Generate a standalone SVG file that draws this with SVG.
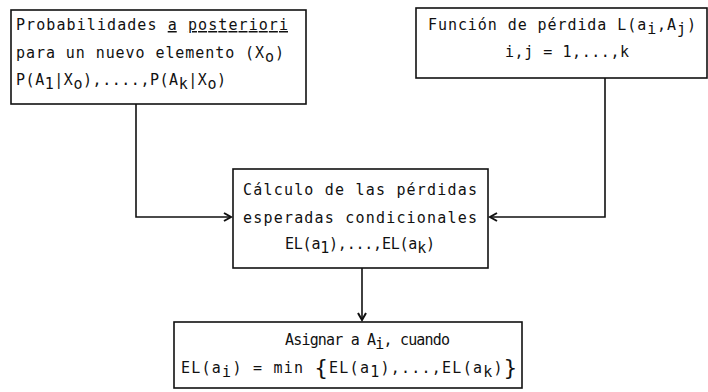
<svg xmlns="http://www.w3.org/2000/svg" width="708" height="392" viewBox="0 0 708 392">
<defs>
<style>
.box{fill:#fff;stroke:#111;stroke-width:1.6}
.t{font-family:"DejaVu Sans Mono","Liberation Mono",monospace;font-size:15px;fill:#111}
.con{fill:none;stroke:#111;stroke-width:1.6}
.u{text-decoration:underline}
.br{font-size:22px}
</style>
<marker id="ah" markerWidth="10" markerHeight="10" refX="8" refY="5" orient="auto" markerUnits="userSpaceOnUse">
<path d="M1,1 L8,5 L1,9" fill="none" stroke="#111" stroke-width="2"/>
</marker>
</defs>
<rect width="708" height="392" fill="#fff"/>
<g id="connectors">
<path class="con" d="M136,104 V217 H231" marker-end="url(#ah)"/>
<path class="con" d="M605,78 V217 H490" marker-end="url(#ah)"/>
<path class="con" d="M362,268 V320" marker-end="url(#ah)"/>
</g>
<g id="posteriori">
<rect class="box" x="11" y="10" width="295" height="94"/>
<text class="t" x="16" y="30" textLength="272" lengthAdjust="spacing">Probabilidades <tspan class="u">a</tspan> <tspan class="u">posteriori</tspan></text>
<text class="t" x="16" y="58" textLength="268" lengthAdjust="spacing">para un nuevo elemento (X<tspan dy="4">o</tspan><tspan dy="-4">)</tspan></text>
<text class="t" x="16" y="85" textLength="210" lengthAdjust="spacing">P(A<tspan dy="4">1</tspan><tspan dy="-4">|X</tspan><tspan dy="4">o</tspan><tspan dy="-4">),....,P(A</tspan><tspan dy="4">k</tspan><tspan dy="-4">|X</tspan><tspan dy="4">o</tspan><tspan dy="-4">)</tspan></text>
</g>
<g id="perdida">
<rect class="box" x="416" y="8" width="291" height="70"/>
<text class="t" x="428" y="30" textLength="268" lengthAdjust="spacing">Función de pérdida L(a<tspan dy="4">i</tspan><tspan dy="-4">,A</tspan><tspan dy="4">j</tspan><tspan dy="-4">)</tspan></text>
<text class="t" x="505" y="57" textLength="124" lengthAdjust="spacing">i,j = 1,...,k</text>
</g>
<g id="calculo">
<rect class="box" x="233" y="169" width="255" height="99"/>
<text class="t" x="243" y="195" textLength="234" lengthAdjust="spacing">Cálculo de las pérdidas</text>
<text class="t" x="243" y="223" textLength="234" lengthAdjust="spacing">esperadas condicionales</text>
<text class="t" x="285" y="249" textLength="150" lengthAdjust="spacing">EL(a<tspan dy="4">1</tspan><tspan dy="-4">),...,EL(a</tspan><tspan dy="4">k</tspan><tspan dy="-4">)</tspan></text>
</g>
<g id="asignar">
<rect class="box" x="174" y="322" width="348" height="66"/>
<text class="t" x="285" y="345" textLength="165" lengthAdjust="spacing">Asignar a A<tspan dy="4">i</tspan><tspan dy="-4">, cuando</tspan></text>
<text class="t" x="181" y="373" textLength="336" lengthAdjust="spacing">EL(a<tspan dy="4">i</tspan><tspan dy="-4">) = min </tspan><tspan class="br" dy="2">{</tspan><tspan dy="-2">EL(a</tspan><tspan dy="4">1</tspan><tspan dy="-4">),...,EL(a</tspan><tspan dy="4">k</tspan><tspan dy="-4">)</tspan><tspan class="br" dy="2">}</tspan></text>
</g>
</svg>
